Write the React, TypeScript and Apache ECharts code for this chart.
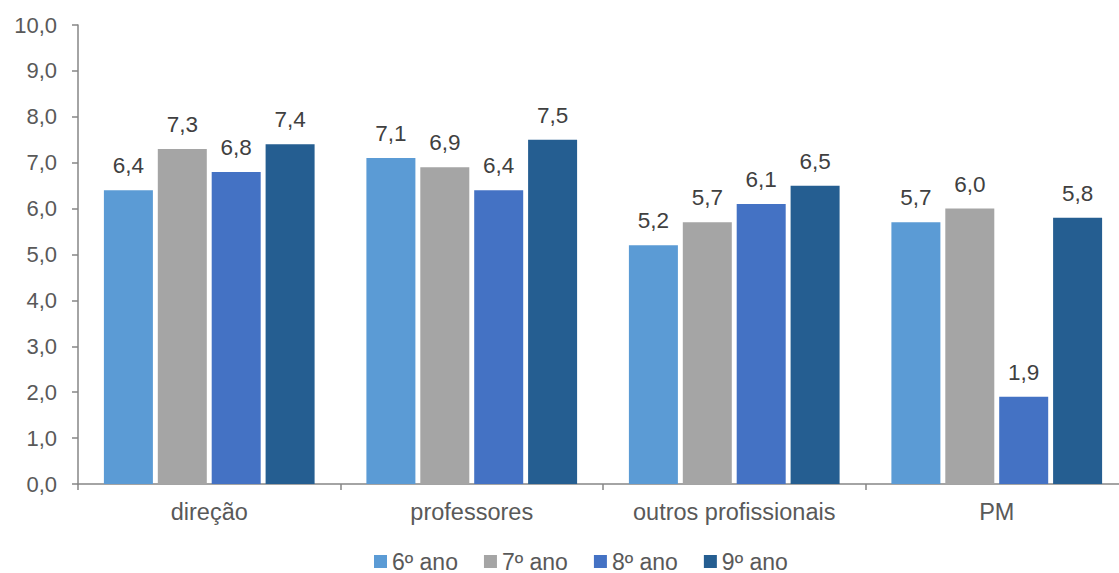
import React, { useEffect, useRef } from "react";
import * as echarts from "echarts";

const categories = ["direção", "professores", "outros profissionais", "PM"];
const seriesNames = ["6º ano", "7º ano", "8º ano", "9º ano"];
const ano6 = [6.4, 7.1, 5.2, 5.7];
const ano7 = [7.3, 6.9, 5.7, 6.0];
const ano8 = [6.8, 6.4, 6.1, 1.9];
const ano9 = [7.4, 7.5, 6.5, 5.8];
const colors = ["#5B9BD5", "#A5A5A5", "#4472C4", "#255E91"];

const FONT = "'Liberation Sans', Arial, sans-serif";
const fmt = (v: number) => v.toFixed(1).replace(".", ",");

export default function App() {
  const ref = useRef<HTMLDivElement>(null);
  useEffect(() => {
    if (!ref.current) return;
    const chart = echarts.init(ref.current, undefined, { renderer: "svg" });
    const values = [ano6, ano7, ano8, ano9];
    chart.setOption({
      animation: false,
      textStyle: { fontFamily: FONT },
      grid: { left: 78, top: 25, bottom: 89, right: 0, containLabel: false },
      legend: {
        data: seriesNames,
        top: 550,
        left: 374,
        padding: 0,
        itemWidth: 13,
        itemHeight: 13,
        itemGap: 26,
        icon: "rect",
        textStyle: { fontSize: 23, color: "#595959", fontFamily: FONT, padding: [0, 0, 0, 0] },
      },
      xAxis: {
        type: "category",
        data: categories,
        axisLine: { lineStyle: { color: "#868686", width: 1.5 } },
        axisTick: { show: true, interval: 0, length: 6, lineStyle: { color: "#868686", width: 1.5 } },
        axisLabel: { interval: 0, fontSize: 23.5, color: "#595959", margin: 16, fontFamily: FONT },
        splitLine: { show: false },
      },
      yAxis: {
        type: "value",
        min: 0,
        max: 10,
        interval: 1,
        axisLine: { show: true, lineStyle: { color: "#868686", width: 1.5 } },
        axisTick: { show: true, length: 6, lineStyle: { color: "#868686", width: 1.5 } },
        axisLabel: { fontSize: 22, color: "#595959", margin: 21, fontFamily: FONT, formatter: (v: number) => fmt(v) },
        splitLine: { show: false },
      },
      series: seriesNames.map((name, i) => ({
        name,
        type: "bar",
        data: values[i],
        barWidth: 49,
        barGap: "10%",
        itemStyle: { color: colors[i] },
        label: {
          show: true,
          position: "top",
          distance: 13,
          fontSize: 22.5,
          color: "#404040",
          fontFamily: FONT,
          formatter: (p: any) => fmt(p.value),
        },
      })),
    });
    return () => chart.dispose();
  }, []);
  return (
    <div style={{ position: "fixed", left: 0, top: 0, width: 1119, height: 573, overflow: "hidden", background: "#fff" }}>
      <div ref={ref} style={{ width: 1128, height: 573 }} />
    </div>
  );
}
